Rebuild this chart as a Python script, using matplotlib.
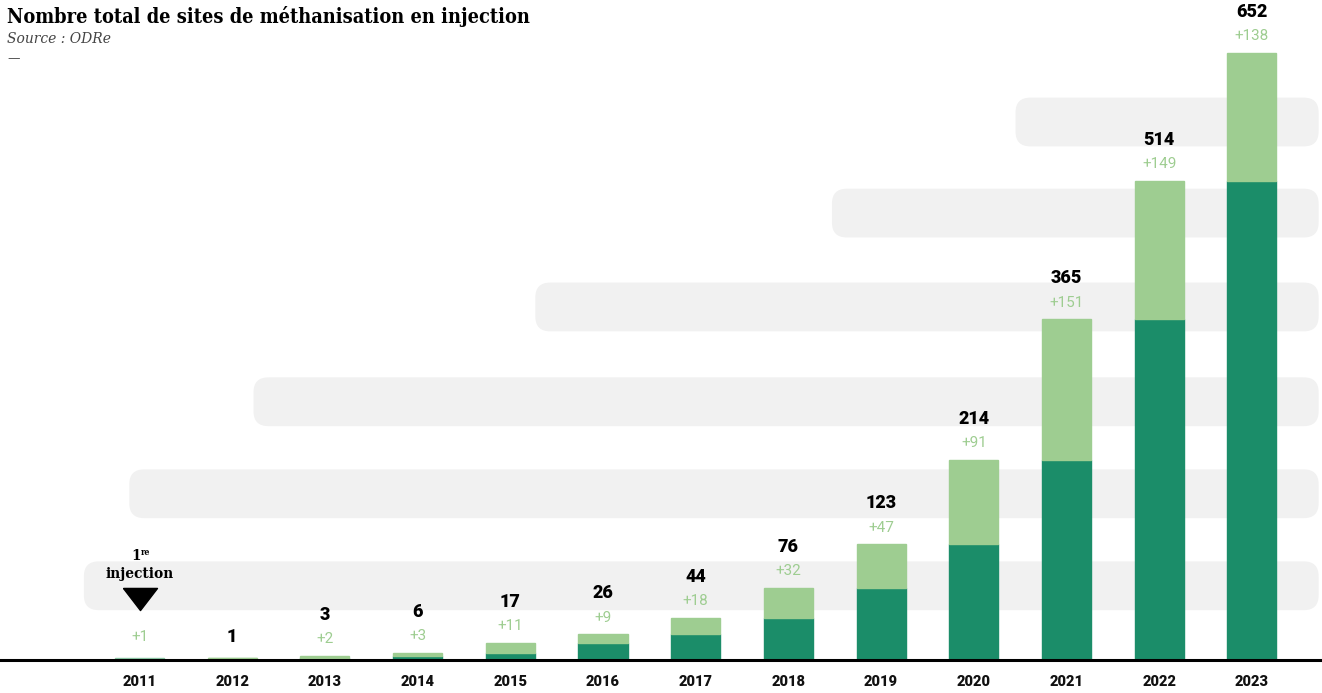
import matplotlib.pyplot as plt
import numpy as np
from matplotlib.patches import FancyBboxPatch
from matplotlib.path import Path
import matplotlib.transforms as mtransforms

# data
years = ['2011', '2012', '2013', '2014', '2015', '2016', '2017',
         '2018', '2019', '2020', '2021', '2022', '2023']
previous = [0, 1, 1, 3, 6, 17, 26, 44, 76, 123, 214, 365, 514]
added = [1, 0, 2, 3, 11, 9, 18, 32, 47, 91, 151, 149, 138]
totals = [1, 1, 3, 6, 17, 26, 44, 76, 123, 214, 365, 514, 652]

# decorative rounded bands behind the bars
band_left = [-0.6, -0.11, 1.23, 4.27, 7.47, 9.45]
band_bottom = [52, 151, 250, 352, 453, 551]
band_height = 52.5
band_right = 12.72

DARK = '#1b8d69'
LIGHT = '#9ecd91'
GREY = '#f1f1f1'

W, H = 1322, 693
fig = plt.figure(figsize=(W / 100, H / 100), dpi=100)
ax = fig.add_axes([0, 0, 1, 1])

# pixel mapping: bar 0 at x=139.5px, step 92.7px ; baseline at 658.5px, 0.9294 px/unit
x0px = 139.5
xstep = 92.7
ypx = 0.9294
base = 658.5
ax.set_xlim(-x0px / xstep, (W - x0px) / xstep)
ax.set_ylim(-(H - base) / ypx, base / ypx)
ax.axis('off')

for xl, yb in zip(band_left, band_bottom):
    p = FancyBboxPatch((xl, yb), band_right - xl, band_height,
                       boxstyle='round,pad=0,rounding_size=0.16',
                       mutation_aspect=xstep / ypx,
                       facecolor=GREY, edgecolor='none', zorder=0)
    ax.add_patch(p)

x = np.arange(len(years))
b1 = ax.bar(x, previous, width=0.53, color=DARK, edgecolor=DARK, linewidth=1.0, zorder=2)
b2 = ax.bar(x, added, bottom=previous, width=0.53, color=LIGHT, edgecolor=LIGHT,
            linewidth=1.0, zorder=2)
b2[0].set_color('#8cc8a6')
b2[0].set_edgecolor('#8cc8a6')
b1[1].set_color(LIGHT)
b1[1].set_edgecolor(LIGHT)

# baseline sits just under the bars
line_tr = mtransforms.offset_copy(ax.transData, fig=fig, x=0, y=-1.1, units='points')
ax.plot([-2, 14], [0, 0], color='black', linewidth=2.2, transform=line_tr,
        zorder=3, solid_capstyle='butt')

num_font = 'Roboto'
for i in range(len(years)):
    top = previous[i] + added[i]
    if added[i] > 0:
        off = 15 if i == 0 else 12
        ax.annotate(f'+{added[i]}', (x[i], top), xytext=(0, off),
                    textcoords='offset points', ha='center', va='center',
                    fontsize=11, color=LIGHT, family=num_font)
    if i > 0:
        off = 15 if added[i] == 0 else 29.5
        ax.annotate(str(totals[i]), (x[i], top), xytext=(0, off),
                    textcoords='offset points', ha='center', va='center',
                    fontsize=13, fontweight='heavy', color='black', family=num_font)
    ax.annotate(years[i], (x[i], 0), xytext=(0, -17), textcoords='offset points',
                ha='center', va='center', fontsize=10.5, fontweight='heavy',
                color='#111111', family=num_font)

# "1re injection" marker above the first bar
tri = Path([(-1, 0.65), (1, 0.65), (0, -0.65), (-1, 0.65)])
tr = mtransforms.offset_copy(ax.transData, fig=fig, x=0, y=42.5, units='points')
ax.plot([x[0]], [totals[0]], marker=tri, markersize=24.5, color='black',
        linestyle='none', transform=tr, zorder=4)
ax.annotate('injection', (x[0], totals[0]), xytext=(0, 60), textcoords='offset points',
            ha='center', va='center', fontsize=11, fontweight='bold',
            family='DejaVu Serif', fontstretch='condensed')
ax.annotate('1', (x[0], totals[0]), xytext=(-2.5, 73), textcoords='offset points',
            ha='center', va='center', fontsize=11, fontweight='bold',
            family='DejaVu Serif', fontstretch='condensed')
ax.annotate('re', (x[0], totals[0]), xytext=(0.8, 76), textcoords='offset points',
            ha='left', va='center', fontsize=6.5, fontweight='bold',
            family='DejaVu Serif', fontstretch='condensed')

fig.text(7 / W, 1 - 23 / H, 'Nombre total de sites de méthanisation en injection',
         ha='left', va='baseline', fontsize=14.3, fontweight='bold',
         family='DejaVu Serif', fontstretch='condensed', color='black')
fig.text(7 / W, 1 - 43 / H, 'Source : ODRe', ha='left', va='baseline',
         fontsize=10, style='italic', family='DejaVu Serif', color='#444444')
fig.text(7 / W, 1 - 62 / H, '—', ha='left', va='baseline', fontsize=9,
         color='#555555', family='DejaVu Sans')

fig.savefig('out.png', dpi=100)
